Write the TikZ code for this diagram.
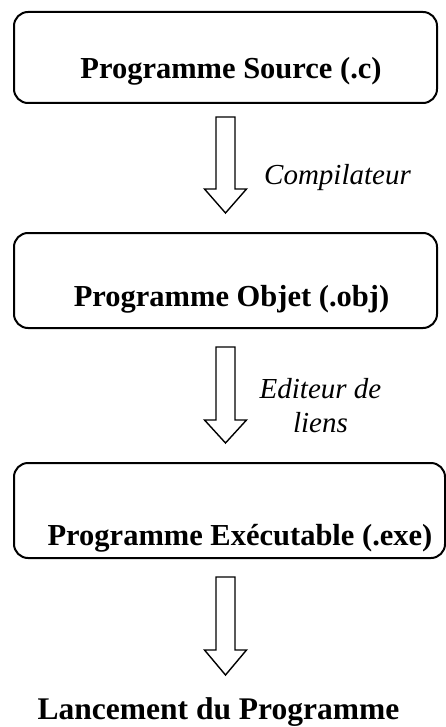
\documentclass[tikz,border=0pt]{standalone}
\usepackage{fontspec}
\setmainfont{Liberation Serif}
% hollow block arrow pointing down: #1 top of the shaft, #2 drop to the head, #3 drop to the tip
\newcommand\hollowdown[3]{%
  \draw[hollow] (#1) +(-9.5,0) -- +(9.5,0) -- +(9.5,#2) -- +(21,#2)
    -- +(0,#3) -- +(-21,#2) -- +(-9.5,#2) -- cycle;}
\begin{document}
\begin{tikzpicture}[x=1pt,y=-1pt,
  stage/.style={draw, line width=2pt, rounded corners=14pt, inner sep=0pt},
  stagetext/.style={font=\fontsize{30.5}{36}\selectfont\bfseries, anchor=base, inner sep=0pt},
  tooltext/.style={font=\fontsize{29}{34}\selectfont\itshape, anchor=base, inner sep=0pt, align=center},
  hollow/.style={draw, line width=1.4pt, fill=white, line join=miter}]
\useasboundingbox (0,0) rectangle (446,727);

% the three stages of the build chain
\node[stage, minimum width=423pt, minimum height=91pt] (src) at (225.5,57.5) {};
\node[stagetext] (srctext) at (231,79) {Programme Source (.c)};

\node[stage, minimum width=423pt, minimum height=95pt] (obj) at (225.5,280.5) {};
\node[stagetext] (objtext) at (231.5,306) {Programme Objet (.obj)};

\node[stage, minimum width=431pt, minimum height=95pt] (exe) at (229.5,510.5) {};
\node[stagetext] (exetext) at (240,545) {Programme Exécutable (.exe)};

\node[stagetext, font=\fontsize{31.5}{36}\selectfont\bfseries] (run) at (218.5,719) {Lancement du Programme};

% arrows between the stages
\coordinate (arr1) at (225.5,117);
\coordinate (arr2) at (225.5,347);
\coordinate (arr3) at (225.5,577);
\hollowdown{arr1}{72}{96}
\hollowdown{arr2}{73}{96}
\hollowdown{arr3}{73}{98}

% tools applied at each step (base anchor sits on the last line)
\node[tooltext] (comp) at (337.5,185) {Compilateur};
\node[tooltext] (link) at (320.5,432) {Editeur de\\liens};
\end{tikzpicture}
\end{document}
